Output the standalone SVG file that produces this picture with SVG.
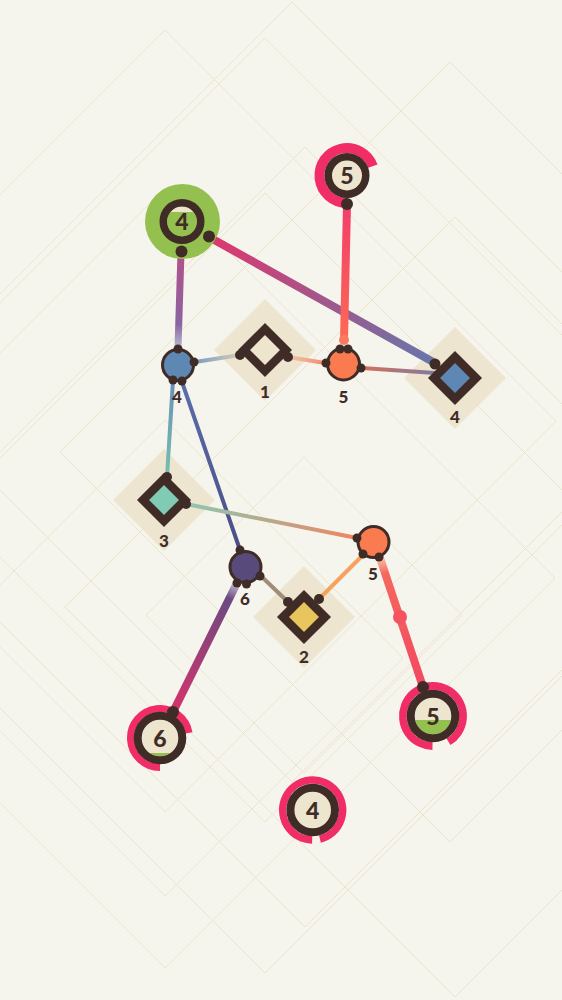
<svg xmlns="http://www.w3.org/2000/svg" width="562" height="1000" viewBox="0 0 562 1000">
<defs>
<style>
.bg{fill:none;stroke:#ece5cc;stroke-width:1}
.pad{fill:#ede5d0}
.dk{fill:#3f2c26}
.ring{fill:#ede5cd;stroke:#3f2c26}
.dia{stroke:#3f2c26;stroke-width:8.5;stroke-linejoin:miter}
.pk{fill:none;stroke:#f02d66}
.lbl{font-family:Lato,"Open Sans",sans-serif;font-weight:900;font-size:17px;fill:#3f2c26;text-anchor:middle}
.big{font-family:Lato,"Open Sans",sans-serif;font-weight:900;font-size:23px;fill:#3f2c26;text-anchor:middle}
.c{fill:none;stroke-linecap:round}
</style>
<linearGradient id="g1" gradientUnits="userSpaceOnUse" x1="209" y1="237" x2="435" y2="363"><stop offset="0" stop-color="#e0366f"/><stop offset="0.5" stop-color="#a2578b"/><stop offset="1" stop-color="#6677ab"/></linearGradient>
<linearGradient id="g2" gradientUnits="userSpaceOnUse" x1="181" y1="252" x2="178" y2="348"><stop offset="0" stop-color="#b3508a"/><stop offset="0.75" stop-color="#8a64a0"/><stop offset="1" stop-color="#b9bbd6"/></linearGradient>
<linearGradient id="g3" gradientUnits="userSpaceOnUse" x1="347" y1="205" x2="344" y2="340"><stop offset="0" stop-color="#f23e69"/><stop offset="1" stop-color="#fd6a55"/></linearGradient>
<linearGradient id="g4" gradientUnits="userSpaceOnUse" x1="195" y1="362" x2="240" y2="355"><stop offset="0" stop-color="#7a9cc0"/><stop offset="1" stop-color="#d6cdb8"/></linearGradient>
<linearGradient id="g5" gradientUnits="userSpaceOnUse" x1="288" y1="357" x2="325" y2="363"><stop offset="0" stop-color="#ecc6ad"/><stop offset="1" stop-color="#f78a6b"/></linearGradient>
<linearGradient id="g6" gradientUnits="userSpaceOnUse" x1="362" y1="368" x2="435" y2="373"><stop offset="0" stop-color="#d6705a"/><stop offset="1" stop-color="#7f7aa0"/></linearGradient>
<linearGradient id="g7" gradientUnits="userSpaceOnUse" x1="173" y1="380" x2="167" y2="477"><stop offset="0" stop-color="#6a8fb9"/><stop offset="1" stop-color="#74c1ae"/></linearGradient>
<linearGradient id="g8" gradientUnits="userSpaceOnUse" x1="182" y1="382" x2="240" y2="550"><stop offset="0" stop-color="#5a6fa8"/><stop offset="1" stop-color="#4b4d8a"/></linearGradient>
<linearGradient id="g9" gradientUnits="userSpaceOnUse" x1="186" y1="504" x2="357" y2="538"><stop offset="0" stop-color="#8ec8b0"/><stop offset="0.5" stop-color="#b8a88a"/><stop offset="1" stop-color="#f2845f"/></linearGradient>
<linearGradient id="g12" gradientUnits="userSpaceOnUse" x1="237" y1="583" x2="173" y2="712"><stop offset="0" stop-color="#c8c0d6"/><stop offset="0.12" stop-color="#6c4a80"/><stop offset="1" stop-color="#d6336c"/></linearGradient>
<linearGradient id="g13" gradientUnits="userSpaceOnUse" x1="380" y1="558" x2="423" y2="687"><stop offset="0" stop-color="#f7c2a6"/><stop offset="0.12" stop-color="#f5685d"/><stop offset="1" stop-color="#f24862"/></linearGradient>
<clipPath id="cg4"><circle cx="182" cy="221.5" r="15"/></clipPath>
<clipPath id="cb6"><circle cx="160" cy="738" r="18.3"/></clipPath>
<clipPath id="cb5"><circle cx="433" cy="716" r="18.3"/></clipPath>
</defs>
<rect x="0" y="0" width="562" height="1000" fill="#f5f4ed"/>
<g id="background">
<polygon class="bg" points="165,30 556,421 165,812 -226,421"/>
<polygon class="bg" points="265,38 657,430 265,822 -127,430"/>
<polygon class="bg" points="292,2 682,392 292,782 -98,392"/>
<polygon class="bg" points="305,147 695,537 305,927 -85,537"/>
<polygon class="bg" points="265,193 655,583 265,973 -125,583"/>
<polygon class="bg" points="165,188 555,578 165,968 -225,578"/>
<polygon class="bg" points="450,62 840,452 450,842 60,452"/>
<polygon class="bg" points="455,217 845,607 455,997 65,607"/>
<polygon class="bg" points="304,457 462,615 304,773 146,615"/>
<polygon class="bg" points="165,420 403,658 165,896 -73,658"/>
</g>
<g id="pads">
<polygon class="pad" points="265,299 316,350 265,401 214,350"/>
<polygon class="pad" points="455,327 506,378 455,429 404,378"/>
<polygon class="pad" points="164,449 215,500 164,551 113,500"/>
<polygon class="pad" points="304,566 355,617 304,668 253,617"/>
</g>
<g id="connectors">
<line class="c" x1="209" y1="237" x2="435" y2="363" stroke="url(#g1)" stroke-width="8"/>
<line class="c" x1="181" y1="252" x2="178" y2="348" stroke="url(#g2)" stroke-width="7"/>
<line class="c" x1="347" y1="205" x2="344" y2="340" stroke="url(#g3)" stroke-width="8"/>
<line class="c" x1="195" y1="362" x2="240" y2="355" stroke="url(#g4)" stroke-width="4"/>
<line class="c" x1="288" y1="357" x2="325" y2="363" stroke="url(#g5)" stroke-width="4"/>
<line class="c" x1="362" y1="368" x2="435" y2="373" stroke="url(#g6)" stroke-width="4"/>
<line class="c" x1="173" y1="380" x2="167" y2="477" stroke="url(#g7)" stroke-width="4"/>
<line class="c" x1="182" y1="382" x2="240" y2="550" stroke="url(#g8)" stroke-width="4"/>
<line class="c" x1="186" y1="504" x2="357" y2="538" stroke="url(#g9)" stroke-width="4"/>
<line class="c" x1="262" y1="577" x2="288" y2="602" stroke="#a08c78" stroke-width="4"/>
<line class="c" x1="363" y1="555" x2="319" y2="599" stroke="#f5a35c" stroke-width="4"/>
<line class="c" x1="237" y1="583" x2="173" y2="712" stroke="url(#g12)" stroke-width="8"/>
<line class="c" x1="380" y1="558" x2="423" y2="687" stroke="url(#g13)" stroke-width="8"/>
<circle cx="400" cy="617" r="7" fill="#f4535f"/>
<circle cx="344" cy="340" r="5" fill="#fd7a5e"/>
</g>
<g id="node-top5">
<path class="pk" stroke-width="10" d="M347,203 A27.5,27.5 0 1 1 372.84,166.09"/>
<circle class="ring" cx="347" cy="175.5" r="18.75" stroke-width="7.5"/>
<text class="big" x="347" y="184">5</text>
<circle class="dk" cx="347" cy="204" r="6"/>
</g>
<g id="node-green4">
<circle cx="182.5" cy="221.5" r="37.5" fill="#93c04f"/>
<circle cx="182" cy="221.5" r="15" fill="#ede5cd"/>
<rect x="160" y="212" width="44" height="30" fill="#93c04f" clip-path="url(#cg4)"/>
<circle cx="182" cy="221.5" r="18.75" fill="none" stroke="#3f2c26" stroke-width="7.5"/>
<text class="big" x="182" y="230">4</text>
<circle class="dk" cx="181.5" cy="251.5" r="6"/>
<circle class="dk" cx="209" cy="236.5" r="6"/>
</g>
<g id="node-blue4">
<circle cx="178" cy="365" r="15.5" fill="#5f87b4" stroke="#3f2c26" stroke-width="3"/>
<circle class="dk" cx="178" cy="349" r="4.5"/>
<circle class="dk" cx="194" cy="362" r="4.5"/>
<circle class="dk" cx="173" cy="380" r="4.5"/>
<circle class="dk" cx="182" cy="381" r="4.5"/>
<text class="lbl" x="177" y="403">4</text>
</g>
<g id="node-d1">
<polygon class="dia" fill="#ede5cd" points="265,329 286,350 265,371 244,350"/>
<circle class="dk" cx="240" cy="355" r="5"/>
<circle class="dk" cx="288" cy="357" r="5"/>
<text class="lbl" x="265" y="398">1</text>
</g>
<g id="node-orange5a">
<circle cx="343.5" cy="364" r="16" fill="#fb7b50" stroke="#3f2c26" stroke-width="3"/>
<circle class="dk" cx="340" cy="349" r="4.5"/>
<circle class="dk" cx="348" cy="349" r="4.5"/>
<circle class="dk" cx="361" cy="368" r="4.5"/>
<circle class="dk" cx="326" cy="363" r="4.5"/>
<text class="lbl" x="343.5" y="403">5</text>
</g>
<g id="node-d4">
<polygon class="dia" fill="#5f87b4" points="455,357 476,378 455,399 434,378"/>
<circle class="dk" cx="435" cy="364" r="5.5"/>
<text class="lbl" x="455" y="423">4</text>
</g>
<g id="node-d3">
<polygon class="dia" fill="#80cbb4" points="164,479 185,500 164,521 143,500"/>
<circle class="dk" cx="167" cy="477" r="5"/>
<circle class="dk" cx="186" cy="504" r="5"/>
<text class="lbl" x="164" y="547">3</text>
</g>
<g id="node-purple6">
<circle cx="245.5" cy="567" r="15.5" fill="#584b7c" stroke="#3f2c26" stroke-width="3"/>
<circle class="dk" cx="240" cy="550" r="4.5"/>
<circle class="dk" cx="260" cy="576" r="4.5"/>
<circle class="dk" cx="237" cy="583" r="4.5"/>
<circle class="dk" cx="246.5" cy="584" r="4.5"/>
<text class="lbl" x="245" y="605">6</text>
</g>
<g id="node-orange5b">
<circle cx="373.5" cy="542" r="15.5" fill="#fb7b50" stroke="#3f2c26" stroke-width="3"/>
<circle class="dk" cx="357" cy="538" r="4.5"/>
<circle class="dk" cx="363" cy="554" r="4.5"/>
<circle class="dk" cx="379" cy="557" r="4.5"/>
<text class="lbl" x="373" y="580">5</text>
</g>
<g id="node-d2">
<polygon class="dia" fill="#e9c55d" points="304,596 325,617 304,638 283,617"/>
<circle class="dk" cx="288" cy="602" r="5"/>
<circle class="dk" cx="319" cy="599" r="5"/>
<text class="lbl" x="304" y="663">2</text>
</g>
<g id="node-bottom6">
<path class="pk" stroke-width="7" d="M160,767.5 A29.5,29.5 0 1 1 189.05,732.88"/>
<circle cx="160" cy="738" r="18.3" fill="#ede5cd"/>
<rect x="138" y="753" width="44" height="10" fill="#93c04f" clip-path="url(#cb6)"/>
<circle cx="160" cy="738" r="22.3" fill="none" stroke="#3f2c26" stroke-width="8"/>
<text class="big" x="160" y="746.5">6</text>
<circle class="dk" cx="173" cy="712" r="6"/>
</g>
<g id="node-bottom5">
<path class="pk" stroke-width="7.7" d="M432.5,746.1 A30.1,30.1 0 1 1 448.5,741.8"/>
<circle cx="433" cy="716" r="18.3" fill="#ede5cd"/>
<rect x="412" y="720" width="42" height="20" fill="#93c04f" clip-path="url(#cb5)"/>
<circle cx="433" cy="716" r="22.3" fill="none" stroke="#3f2c26" stroke-width="8"/>
<text class="big" x="433" y="724.5">5</text>
<circle class="dk" cx="423" cy="687" r="6"/>
</g>
<g id="node-bottom4">
<path class="pk" stroke-width="7.4" d="M312.18,840 A30,30 0 1 1 319.96,839.11"/>
<circle cx="312.7" cy="810" r="22.3" fill="#ede5cd" stroke="#3f2c26" stroke-width="8"/>
<text class="big" x="312.7" y="818.5">4</text>
</g>
</svg>
